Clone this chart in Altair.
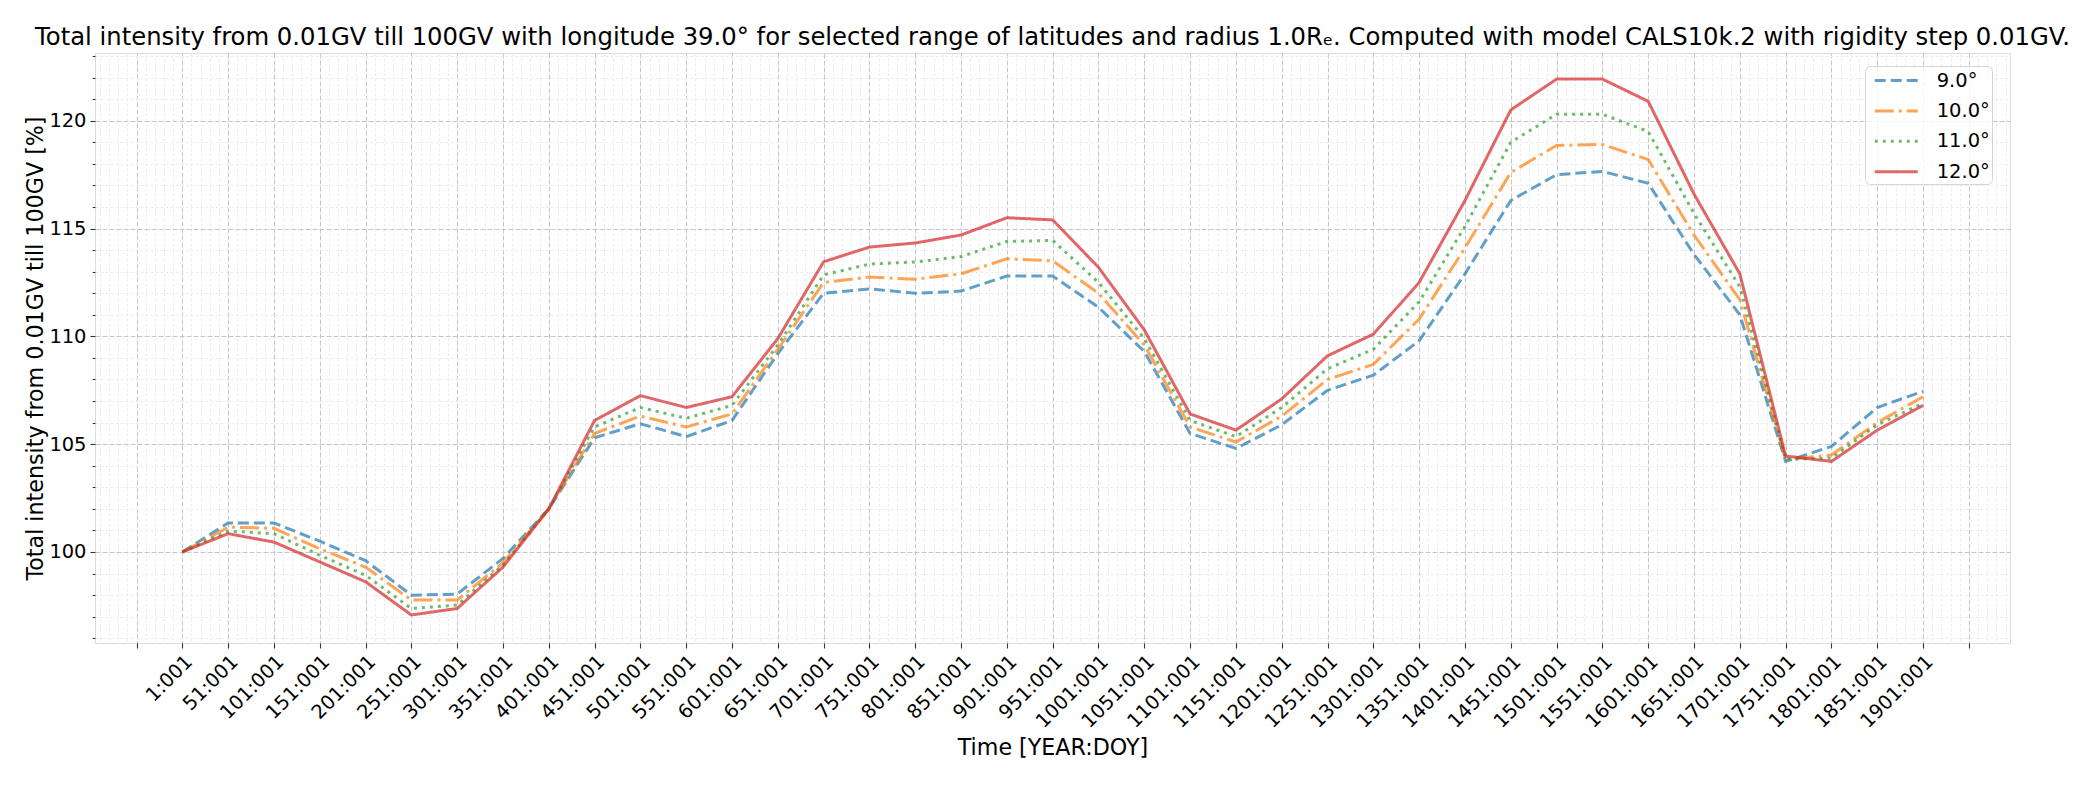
import altair as alt
import pandas as pd

# ---------------- data ----------------
years = [1, 51, 101, 151, 201, 251, 301, 351, 401, 451, 501, 551, 601, 651, 701,
         751, 801, 851, 901, 951, 1001, 1051, 1101, 1151, 1201, 1251, 1301, 1351,
         1401, 1451, 1501, 1551, 1601, 1651, 1701, 1751, 1801, 1851, 1901]

lat_labels = ["9.0°", "10.0°", "11.0°", "12.0°"]

lat9 = [100.0, 101.35, 101.35, 100.5, 99.6, 98.0, 98.05, 99.7, 102.0, 105.3, 105.95,
        105.35, 106.1, 109.2, 112.0, 112.2, 112.0, 112.1, 112.8, 112.8, 111.35, 109.3,
        105.5, 104.8, 105.9, 107.5, 108.2, 109.8, 112.9, 116.3, 117.5, 117.65, 117.1,
        113.8, 111.0, 104.2, 104.9, 106.7, 107.45]
lat10 = [100.0, 101.15, 101.1, 100.15, 99.3, 97.77, 97.77, 99.5, 102.0, 105.5, 106.3,
         105.8, 106.4, 109.4, 112.5, 112.75, 112.65, 112.9, 113.6, 113.5, 112.0, 109.6,
         105.8, 105.1, 106.3, 108.0, 108.7, 110.8, 114.1, 117.6, 118.85, 118.9, 118.2,
         114.7, 111.7, 104.3, 104.5, 106.0, 107.2]
lat11 = [100.0, 100.97, 100.85, 99.85, 98.92, 97.38, 97.54, 99.4, 102.0, 105.8, 106.7,
         106.2, 106.8, 109.6, 112.85, 113.35, 113.45, 113.7, 114.4, 114.45, 112.5, 109.9,
         106.1, 105.35, 106.7, 108.5, 109.4, 111.6, 115.1, 119.0, 120.3, 120.3, 119.5,
         115.7, 112.3, 104.3, 104.35, 105.9, 106.9]
lat12 = [100.0, 100.85, 100.46, 99.54, 98.62, 97.08, 97.38, 99.3, 102.0, 106.1, 107.25,
         106.7, 107.2, 109.9, 113.46, 114.14, 114.33, 114.7, 115.5, 115.4, 113.2, 110.3,
         106.4, 105.65, 107.1, 109.1, 110.1, 112.5, 116.3, 120.5, 121.93, 121.93, 120.9,
         116.6, 112.9, 104.45, 104.2, 105.65, 106.8]

x_major_ticks = [1, 51, 101, 151, 201, 251, 301, 351, 401, 451, 501, 551, 601, 651,
                 701, 751, 801, 851, 901, 951, 1001, 1051, 1101, 1151, 1201, 1251,
                 1301, 1351, 1401, 1451, 1501, 1551, 1601, 1651, 1701, 1751, 1801,
                 1851, 1901]
x_tick_labels = ["1:001", "51:001", "101:001", "151:001", "201:001", "251:001",
                 "301:001", "351:001", "401:001", "451:001", "501:001", "551:001",
                 "601:001", "651:001", "701:001", "751:001", "801:001", "851:001",
                 "901:001", "951:001", "1001:001", "1051:001", "1101:001", "1151:001",
                 "1201:001", "1251:001", "1301:001", "1351:001", "1401:001", "1451:001",
                 "1501:001", "1551:001", "1601:001", "1651:001", "1701:001", "1751:001",
                 "1801:001", "1851:001", "1901:001"]
y_major_ticks = [100, 105, 110, 115, 120]

title_text = ("Total intensity from 0.01GV till 100GV with longitude 39.0° for selected "
              "range of latitudes and radius 1.0Rₑ. Computed with model CALS10k.2 with "
              "rigidity step 0.01GV.")
x_title = "Time [YEAR:DOY]"
y_title = "Total intensity from 0.01GV till 100GV [%]"

# ---------------- styling ----------------
colors = ["#1f77b4", "#ff7f0e", "#2ca02c", "#d62728"]
dashes = [[11, 5], [19, 5, 3, 5], [3, 5], [1, 0]]
FONT = "DejaVu Sans"
x_domain = [-94.3, 1995.9]
y_domain = [95.78, 123.14]

rows = []
for lab, series in zip(lat_labels, [lat9, lat10, lat11, lat12]):
    for yr, v in zip(years, series):
        rows.append({"year": yr, "value": v, "lat": lab})
df = pd.DataFrame(rows)

# tick positions: majors every 50 years (plus the ones outside the data), minors every 10
x_tick_values = list(range(-89, 1992, 10))
y_tick_values = list(range(96, 124))

label_expr_x = ("indexof({t}, datum.value) < 0 ? '' : {l}[indexof({t}, datum.value)]"
                .format(t=str(x_major_ticks), l=str(x_tick_labels)))
label_expr_y = ("indexof({t}, datum.value) < 0 ? '' : datum.value"
                .format(t=str(y_major_ticks)))

major_x = "(datum.value - 1) % 50 === 0"
major_y = "datum.value % 5 === 0"

x_axis = alt.Axis(
    values=x_tick_values,
    labelExpr=label_expr_x,
    labelAngle=-45,
    labelAlign="right",
    labelBaseline="top",
    labelFont=FONT,
    labelFontSize=19.44,
    labelColor="black",
    labelOverlap=False,
    labelFlush=False,
    labelPadding=4,
    labelLimit=400,
    domain=False,
    ticks=True,
    tickColor="#333333",
    tickWidth=1.1,
    tickSize={"condition": {"test": major_x, "value": 5}, "value": 0},
    grid=True,
    gridColor={"condition": {"test": major_x, "value": "#c6c6c6"}, "value": "#ececec"},
    gridDash={"condition": {"test": major_x, "value": [5, 2]}, "value": [3, 2]},
    gridWidth=1,
    title=x_title,
    titleFont=FONT,
    titleFontSize=22.2,
    titleFontWeight="normal",
    titleColor="black",
    titleBaseline="alphabetic",
    titleY=111,
)

y_axis = alt.Axis(
    values=y_tick_values,
    labelExpr=label_expr_y,
    labelFont=FONT,
    labelFontSize=19.44,
    labelColor="black",
    labelPadding=4,
    labelOverlap=False,
    labelFlush=False,
    domain=False,
    ticks=True,
    tickColor="#333333",
    tickWidth=1.1,
    tickSize={"condition": {"test": major_y, "value": 5}, "value": 2.8},
    grid=True,
    gridColor={"condition": {"test": major_y, "value": "#c6c6c6"}, "value": "#ececec"},
    gridDash={"condition": {"test": major_y, "value": [5, 2]}, "value": [3, 2]},
    gridWidth=1,
    title=y_title,
    titleFont=FONT,
    titleFontSize=22.2,
    titleFontWeight="normal",
    titleColor="black",
    titleBaseline="alphabetic",
    titleX=-53,
)

legend = alt.Legend(
    orient="none",
    legendX=1770,
    legendY=13,
    title=None,
    symbolType="M-2,0H2",
    symbolSize=462,
    symbolOffset=16.75,
    symbolStrokeWidth=3,
    symbolOpacity=0.7,
    labelFont=FONT,
    labelFontSize=19.44,
    labelColor="black",
    labelOffset=28,
    rowPadding=8.4,
    padding=2,
    fillColor="rgba(255,255,255,0.8)",
    strokeColor="#d6d6d6",
    cornerRadius=5,
)

lines = alt.Chart(df).mark_line(strokeWidth=3, opacity=0.7, strokeCap="butt").encode(
    x=alt.X("year:Q", scale=alt.Scale(domain=x_domain, nice=False, zero=False), axis=x_axis),
    y=alt.Y("value:Q", scale=alt.Scale(domain=y_domain, nice=False, zero=False), axis=y_axis),
    color=alt.Color("lat:N", scale=alt.Scale(domain=lat_labels, range=colors), legend=legend),
    strokeDash=alt.StrokeDash("lat:N", scale=alt.Scale(domain=lat_labels, range=dashes), legend=legend),
    order=alt.Order("year:Q"),
)

chart = lines.properties(
    width=1915,
    height=590,
    autosize=alt.AutoSizeParams(type="none"),
    padding={"left": 87, "top": 45, "right": 78, "bottom": 134},
    title=alt.TitleParams(
        text=title_text, font=FONT, fontSize=24.3, fontWeight="normal", color="black",
        anchor="middle", frame="group", baseline="alphabetic", offset=9, dy=32,
    ),
).configure_view(stroke="#555555", strokeWidth=1.2).configure(background="white")

chart.save("out.html", embed_options={"renderer": "svg", "actions": False})
